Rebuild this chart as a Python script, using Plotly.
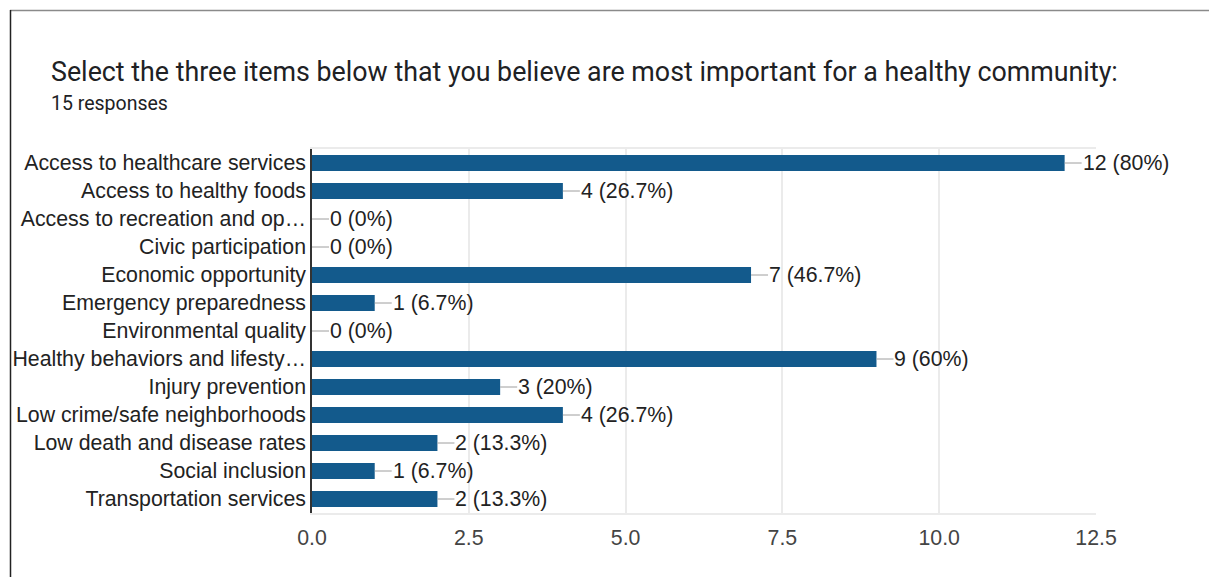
import plotly.graph_objects as go

# Survey question and response summary
question = "Select the three items below that you believe are most important for a healthy community:"
n_responses = 15

categories = [
    "Access to healthcare services",
    "Access to healthy foods",
    "Access to recreation and op…",
    "Civic participation",
    "Economic opportunity",
    "Emergency preparedness",
    "Environmental quality",
    "Healthy behaviors and lifesty…",
    "Injury prevention",
    "Low crime/safe neighborhoods",
    "Low death and disease rates",
    "Social inclusion",
    "Transportation services",
]
counts = [12, 4, 0, 0, 7, 1, 0, 9, 3, 4, 2, 1, 2]

x_ticks = [0, 2.5, 5, 7.5, 10, 12.5]

BAR = "#135a8c"
TEXT = "#222222"
GRID = "#ebebeb"
FONT = "Liberation Sans, Arial, sans-serif"
FS = 21.3

# plot-area geometry in pixels
W, H = 1209, 577
L, R, T, B = 312, 113, 149, 64
pw, ph = W - L - R, H - T - B


def px_x(p):
    return (p - L) / pw


def px_y(p):
    return (H - B - p) / ph


def pct(c):
    v = round(c / n_responses * 100, 1)
    s = f"{v:.1f}"
    if s.endswith(".0"):
        s = s[:-2]
    return f"{c} ({s}%)"


fig = go.Figure(
    go.Bar(
        x=counts,
        y=categories,
        orientation="h",
        marker=dict(color=BAR, line=dict(width=0)),
        hoverinfo="skip",
    )
)

annotations = []
for c, cat in zip(counts, categories):
    annotations.append(
        dict(
            x=c, y=cat, xref="x", yref="y",
            text=pct(c),
            showarrow=True, arrowhead=0, arrowwidth=1, arrowcolor="#9e9e9e",
            ax=17, ay=0, standoff=0, startstandoff=0,
            xanchor="left", yanchor="middle",
            borderpad=0,
            font=dict(family=FONT, size=FS, color=TEXT),
        )
    )

annotations.append(
    dict(
        x=px_x(49), y=px_y(72), xref="paper", yref="paper",
        text=question, showarrow=False, xanchor="left", yanchor="middle",
        font=dict(family="Roboto, sans-serif", size=26.8, color="#202124"),
    )
)
annotations.append(
    dict(
        x=px_x(49), y=px_y(103), xref="paper", yref="paper",
        text=f"{n_responses} responses", showarrow=False,
        xanchor="left", yanchor="middle",
        font=dict(family="Roboto, sans-serif", size=19.5, color="#202124"),
    )
)

shapes = [
    # card border: top and left edges
    dict(type="line", xref="paper", yref="paper",
         x0=px_x(10), x1=px_x(1209), y0=px_y(10.5), y1=px_y(10.5),
         line=dict(color="#8a8a8a", width=1.5)),
    dict(type="line", xref="paper", yref="paper",
         x0=px_x(10.5), x1=px_x(10.5), y0=px_y(10), y1=px_y(577),
         line=dict(color="#222222", width=1.5)),
]

fig.update_layout(
    width=W, height=H,
    margin=dict(l=L, r=R, t=T, b=B, pad=0),
    paper_bgcolor="white",
    plot_bgcolor="white",
    showlegend=False,
    bargap=0.43,
    annotations=annotations,
    shapes=shapes,
    xaxis=dict(
        range=[0, 12.5],
        tickvals=x_ticks,
        tickformat=".1f",
        showgrid=True, gridcolor=GRID, gridwidth=1.5,
        zeroline=False,
        showline=True, linecolor=GRID, linewidth=1.5, mirror=True,
        ticks="",
        ticklabelstandoff=5,
        tickfont=dict(family=FONT, size=FS, color="#444444"),
        fixedrange=True,
    ),
    yaxis=dict(
        categoryorder="array",
        categoryarray=categories,
        autorange="reversed",
        showgrid=False,
        zeroline=False,
        showline=True, linecolor="#333333", linewidth=1.5,
        ticks="",
        ticklabelstandoff=0,
        tickfont=dict(family=FONT, size=FS, color=TEXT),
        fixedrange=True,
    ),
    font=dict(family=FONT),
)

fig.write_html("out.html", config=dict(displayModeBar=False))
